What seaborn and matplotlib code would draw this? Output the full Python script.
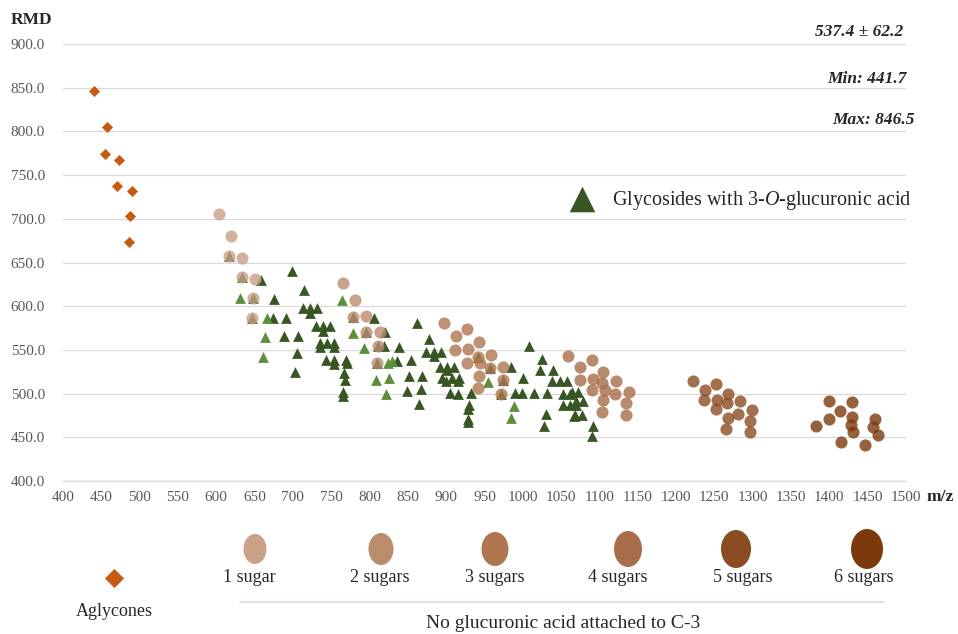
import matplotlib
matplotlib.use("Agg")
import matplotlib.pyplot as plt
import seaborn as sns
import pandas as pd
from matplotlib.patches import Ellipse

# ---------------- data ----------------
aglycone_mz = [441, 457, 455, 473, 471, 490, 487, 486]
aglycone_rmd = [846.5, 805, 774, 767, 738, 732, 703, 673.5]

sugar1_mz = [604, 619, 617, 634, 633, 650, 648, 647]
sugar1_rmd = [706, 680, 657, 655, 633, 631, 609, 587]

sugar2_mz = [765, 781, 779, 796, 795, 813, 811, 810]
sugar2_rmd = [627, 607, 588, 589, 570, 571, 554, 535]

sugar3_mz = [897, 913, 927, 911, 929, 943, 927, 944, 942, 959, 957, 943, 974, 974, 941, 972]
sugar3_rmd = [581, 566, 574, 550, 551, 559, 535, 535, 542, 544, 529, 520, 530, 516, 506, 500]

sugar4_mz = [1059, 1075, 1090, 1074, 1091, 1105, 1103, 1121, 1090, 1107, 1120, 1138, 1105, 1135, 1103, 1135]
sugar4_rmd = [543, 530, 538, 516, 517, 525, 512, 514, 504, 504, 500, 502, 493, 489, 479, 475]

sugar5_mz = [1222, 1238, 1252, 1236, 1253, 1268, 1266, 1252, 1283, 1281, 1299, 1268, 1297, 1265, 1296]
sugar5_rmd = [514, 504, 511, 493, 493, 500, 489, 482, 491, 477, 481, 472, 469, 460, 456]

sugar6_mz = [1383, 1399, 1400, 1414, 1429, 1430, 1428, 1431, 1415, 1446, 1460, 1457, 1463]
sugar6_rmd = [463, 471, 492, 480, 490, 473, 464, 456, 445, 441.7, 471, 462, 453]

gluc_dark_mz = [659, 699, 675, 715, 674, 691, 713, 722, 732, 722, 689, 707, 730, 739, 748, 739,
                735, 745, 754, 736, 754, 705, 743, 753, 769, 753, 770, 703, 767, 768, 765, 766,
                806, 820, 819, 617, 633, 648, 647, 779, 795, 811, 810,
                862, 877, 838, 874, 884, 893, 884, 854, 836, 892, 901, 910, 901, 852, 869, 895,
                907, 917, 900, 916, 849, 867, 905, 915, 932, 865, 930, 929, 928, 929, 985, 1000,
                990, 999, 1008, 1025, 1022, 1039, 1038, 1048, 1057, 1014, 1031, 1053, 1062, 1052,
                1061, 1069, 1030, 1027, 1067, 942, 957, 974, 972,
                1064, 1072, 1070, 1079, 1068, 1077, 1091, 1090]
gluc_dark_rmd = [630, 640, 608, 619, 586, 587, 598, 598, 598, 592, 566, 566, 577, 577, 577, 572,
                 558, 558, 558, 553, 553, 546, 539, 539, 539, 534, 535, 525, 523, 516, 502, 497,
                 587, 571, 554, 657, 633, 609, 587, 588, 570, 554, 535,
                 581, 563, 553, 548, 548, 548, 543, 538, 537, 531, 531, 531, 527, 520, 520, 518,
                 518, 518, 514, 514, 503, 505, 501, 500, 501, 488, 487, 482, 471, 467, 530, 518,
                 501, 501, 554, 540, 527, 527, 514, 514, 514, 501, 501, 500, 500, 487,
                 487, 487, 477, 463, 474, 542, 529, 516, 500,
                 502, 502, 491, 491, 476, 476, 463, 451]

gluc_light_mz = [631, 666, 664, 661, 764, 778, 793, 808, 822, 824, 829, 825, 955, 988, 985]
gluc_light_rmd = [609, 586, 565, 542, 607, 569, 552, 516, 500, 535, 537, 518, 513, 486, 472]

sugar_labels = ["1 sugar", "2 sugars", "3 sugars", "4 sugars", "5 sugars", "6 sugars"]
sugar_colors = ["#C9A088", "#BB8C6C", "#B07650", "#A86E4A", "#8C4C22", "#7C3A0C"]
x_ticks = list(range(400, 1501, 50))
y_ticks = list(range(400, 901, 50))

# ---------------- figure ----------------
sns.set_theme(style="white")
plt.rcParams['font.family'] = ['Liberation Serif', 'DejaVu Serif']
plt.rcParams['mathtext.fontset'] = 'custom'
plt.rcParams['mathtext.rm'] = 'Liberation Serif'
plt.rcParams['mathtext.it'] = 'Liberation Serif:italic'

fig = plt.figure(figsize=(9.58, 6.34), dpi=100)
ax = fig.add_axes([63/958, 1-481/634, (906-63)/958, (481-44)/634])

gray = "#D9D9D9"
green_dark = "#375623"
green_light = "#5B8F3A"
agly_color = "#C55A11"

sns.scatterplot(x=gluc_dark_mz, y=gluc_dark_rmd, ax=ax, marker='^', color=green_dark,
                s=60, linewidth=0, zorder=3)
sns.scatterplot(x=gluc_light_mz, y=gluc_light_rmd, ax=ax, marker='^', color=green_light,
                s=60, linewidth=0, zorder=3)

sugar_mz = [sugar1_mz, sugar2_mz, sugar3_mz, sugar4_mz, sugar5_mz, sugar6_mz]
sugar_rmd = [sugar1_rmd, sugar2_rmd, sugar3_rmd, sugar4_rmd, sugar5_rmd, sugar6_rmd]
for mz, rmd, col in zip(sugar_mz, sugar_rmd, sugar_colors):
    sns.scatterplot(x=mz, y=rmd, ax=ax, marker='o', color=col, s=76, linewidth=0,
                    alpha=0.8, zorder=4)

sns.scatterplot(x=aglycone_mz, y=aglycone_rmd, ax=ax, marker='D', color=agly_color,
                s=32, linewidth=0, zorder=4)

ax.set_xlim(400, 1500)
ax.set_ylim(400, 900)
ax.set_xticks(x_ticks)
ax.set_xticklabels([str(t) for t in x_ticks])
ax.set_yticks(y_ticks)
ax.set_yticklabels([f"{t:.1f}" for t in y_ticks])
ax.tick_params(axis='both', length=0, labelsize=11, labelcolor="#595959")
ax.tick_params(axis='y', pad=13)
ax.tick_params(axis='x', pad=7)
ax.grid(axis='y', color=gray, linewidth=0.9)
ax.grid(axis='x', visible=False)
for side in ['top', 'right', 'left']:
    ax.spines[side].set_visible(False)
ax.spines['bottom'].set_color(gray)
ax.spines['bottom'].set_linewidth(0.9)
ax.set_xlabel("")
ax.set_ylabel("")
ax.set_axisbelow(True)

# ---------------- overlay for texts / legend ----------------
lax = fig.add_axes([0, 0, 1, 1], zorder=5)
lax.set_xlim(0, 958)
lax.set_ylim(634, 0)
lax.axis('off')
lax.patch.set_alpha(0)

lax.text(32, 20, "RMD", ha='center', va='center', fontsize=12.5, fontweight='bold')
lax.text(940, 497, "m/z", ha='center', va='center', fontsize=12.5, fontweight='bold')

lax.text(903, 32, "537.4 ± 62.2", ha='right', va='center', fontsize=12.5,
         fontweight='bold', fontstyle='italic')
lax.text(907, 79, "Min: 441.7", ha='right', va='center', fontsize=12.5,
         fontweight='bold', fontstyle='italic')
lax.text(915, 120, "Max: 846.5", ha='right', va='center', fontsize=12.5,
         fontweight='bold', fontstyle='italic')

lax.scatter([582], [199], marker='^', s=340, color=green_dark, linewidth=0)
lax.text(612, 200, "Glycosides with 3-$\\mathit{O}$-glucuronic acid", ha='left', va='center',
         fontsize=14.5)

# bottom legend
circ_x = [255, 381, 495, 628, 736, 867]
circ_w = [23, 25, 27, 28, 30, 32]
circ_h = [30, 32, 34, 36, 38, 40]
lab_x = [249, 380, 495, 618, 743, 864]
for cx, w, h, col, lx, lab in zip(circ_x, circ_w, circ_h, sugar_colors, lab_x, sugar_labels):
    lax.add_patch(Ellipse((cx, 549), w, h, color=col, linewidth=0))
    lax.text(lx, 578, lab, ha='center', va='center', fontsize=13)

lax.scatter([114], [578], marker='D', s=95, color=agly_color, linewidth=0)
lax.text(114, 612, "Aglycones", ha='center', va='center', fontsize=13)
lax.plot([240, 884], [602, 602], color="#E3DACB", linewidth=1.2)
lax.text(563, 624, "No glucuronic acid attached to C-3", ha='center', va='center', fontsize=14)

fig.savefig("out.png", dpi=100)
